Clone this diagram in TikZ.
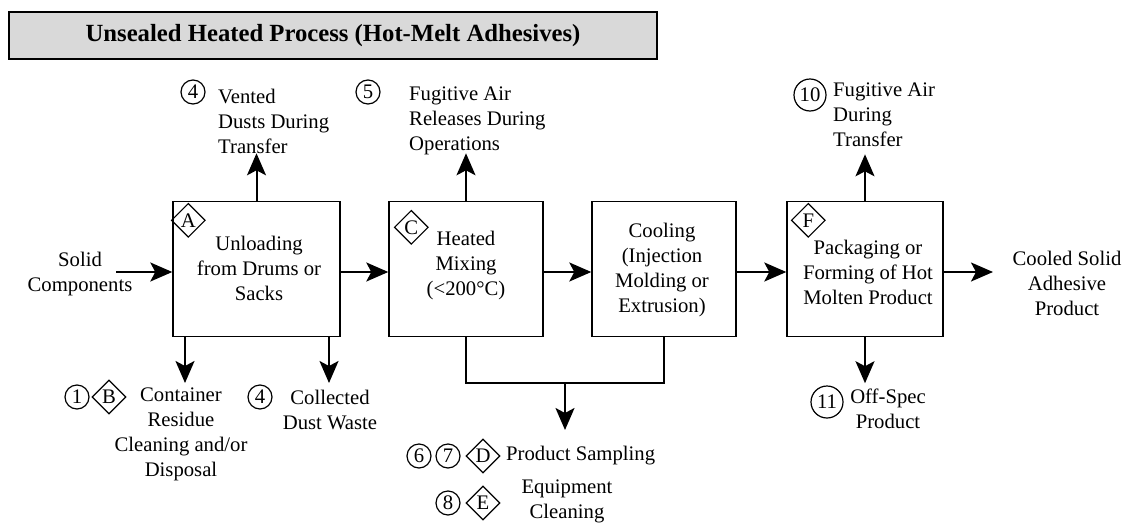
\documentclass[tikz,border=0pt]{standalone}
\usepackage{fontspec}
\setmainfont{Liberation Serif}
\usepackage{tikz}
\usetikzlibrary{positioning, arrows.meta, shapes.geometric}

\begin{document}
\begin{tikzpicture}[x=1pt, y=-1pt, node distance=200pt, on grid,
    font=\fontsize{20.7}{25}\selectfont,
    proceso/.style={draw, line width=1.4pt, minimum height=135pt, align=center, inner sep=0pt},
    flecha/.style={-{Stealth[length=22pt, width=19pt, inset=5pt]}, line width=2pt},
    num/.style={draw, circle, line width=1.2pt, inner sep=0pt, minimum size=24pt},
    letra/.style={draw, diamond, line width=1.2pt, inner sep=0pt, minimum size=34pt},
    texto/.style={align=center, inner sep=0pt}]

  \useasboundingbox (0,0) rectangle (1123,522);

  % Título
  \node[draw, fill=gray!30, line width=1.8pt, minimum width=648pt, minimum height=47pt,
        font=\fontsize{24.7}{30}\selectfont\bfseries] (titulo) at (333,35.5)
        {Unsealed Heated Process (Hot-Melt Adhesives)};

  % Etapas del proceso
  \node[proceso, minimum width=167pt] (A) at (256.5,269) {};
  \node[proceso, minimum width=154pt] (C) [right=209.5pt of A] {};
  \node[proceso, minimum width=144pt] (cool) [right=198pt of C] {};
  \node[proceso, minimum width=156pt] (F) [right=201pt of cool] {};
  \node[texto, xshift=2.5pt, yshift=1pt] (Atxt) at (A.center) {Unloading\\from Drums or\\Sacks};
  \node[texto, yshift=3pt] (Ctxt) at (C.center) {Heated\\Mixing\\(<200°C)};
  \node[texto, xshift=-2pt, yshift=-1pt] (cooltxt) at (cool.center) {Cooling\\(Injection\\Molding or\\Extrusion)};
  \node[texto, xshift=3pt, yshift=-3pt] (Ftxt) at (F.center) {Packaging or\\Forming of Hot\\Molten Product};

  % Rombos dentro de las etapas
  \node[letra, xshift=16pt, yshift=-19.5pt] (dA) at (A.north west) {A};
  \node[letra, xshift=23pt, yshift=-26.5pt] (dC) at (C.north west) {C};
  \node[letra, xshift=22pt, yshift=-19.5pt] (dF) at (F.north west) {F};

  % Entrada y salida
  \coordinate (linea) at (0,272);
  \node[texto] (solid) at (80,274) {Solid\\Components};
  \coordinate (entrada) at (116,272);
  \node[texto] (producto) at (1067,283) {Cooled Solid\\Adhesive\\Product};
  \coordinate (salida) at (993,272);

  % Emisiones hacia arriba
  \node[num] (n4a) at (193,92) {4};
  \node[texto, align=left, anchor=west] (vent) at (218,121) {Vented\\Dusts During\\Transfer};
  \coordinate[above=47.5pt of A.north] (ventA);
  \node[num] (n5) at (368,92) {5};
  \node[texto, align=left, anchor=west] (fugC) at (409,121) {Fugitive Air\\Releases During\\Operations};
  \coordinate[above=47.5pt of C.north] (ventC);
  \node[num, minimum size=32pt] (n10) at (810,95) {10};
  \node[texto, align=left, anchor=west] (fugF) at (833,115) {Fugitive Air\\During\\Transfer};
  \coordinate[above=46.5pt of F.north] (ventF);

  % Residuos hacia abajo
  \node[num] (n1) at (77,397) {1};
  \node[letra] (dB) at (109,397) {B};
  \node[texto] (resid) at (181,434.5) {Container\\Residue\\Cleaning and/or\\Disposal};
  \coordinate (residA) at (185,383);
  \node[num] (n4b) at (260,397) {4};
  \node[texto] (polvo) at (330,410) {Collected\\Dust Waste};
  \coordinate (polvoA) at (329,383);

  \coordinate (union) at (565,383);
  \coordinate (muestra) at (565,430);
  \node[num] (n6) at (419,456) {6};
  \node[num] (n7) at (448,456) {7};
  \node[letra] (dD) at (483,456) {D};
  \node[texto, anchor=west] (sampling) at (506,456) {Product Sampling};
  \node[num] (n8) at (448,503) {8};
  \node[letra] (dE) at (483,503) {E};
  \node[texto] (equipo) at (567,501) {Equipment\\Cleaning};

  \node[num, minimum size=32pt] (n11) at (827,402) {11};
  \node[texto] (offspec) at (888,409) {Off-Spec\\Product};
  \coordinate[below=46pt of F.south] (offF);

  % Flechas
  \path[flecha]
      (entrada) edge (A.west |- linea)
      (A.east |- linea) edge (C.west |- linea)
      (C.east |- linea) edge (cool.west |- linea)
      (cool.east |- linea) edge (F.west |- linea)
      (F.east |- linea) edge (salida)
      (A) edge (ventA)
      (C) edge (ventC)
      (F) edge (ventF)
      (residA |- A.south) edge (residA)
      (polvoA |- A.south) edge (polvoA)
      (union) edge (muestra)
      (F) edge (offF);
  \draw[line width=1.5pt] (C.south) |- (union) -| (cool.south);

\end{tikzpicture}
\end{document}
